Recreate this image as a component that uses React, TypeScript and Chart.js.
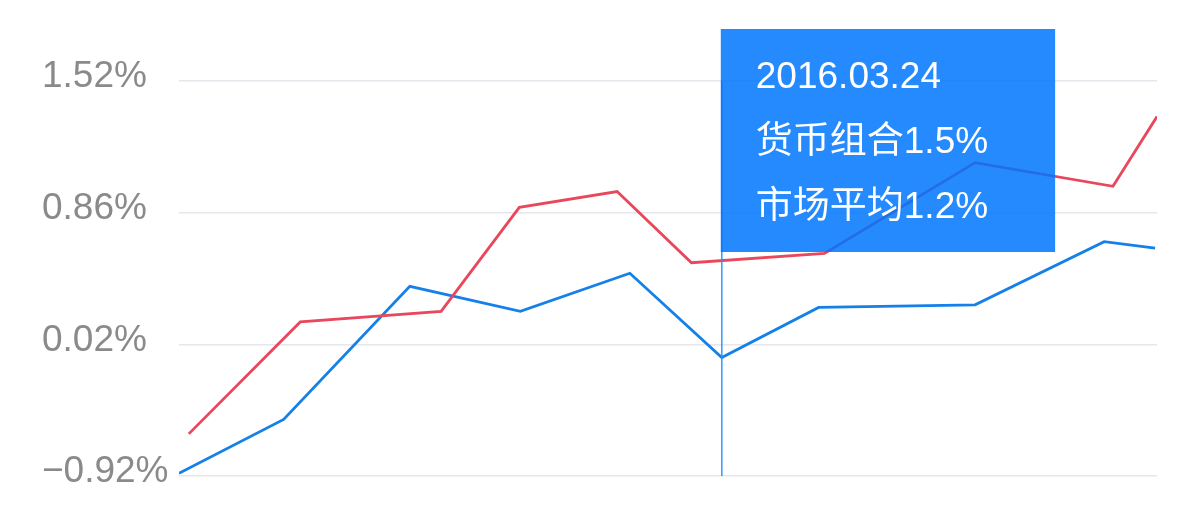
import { useEffect, useRef } from 'react';
import { Chart, registerables, Tooltip } from 'chart.js';

Chart.register(...registerables);

// y axis: four evenly spaced grid lines, labelled with uneven percentages
const yTickLabels = ['−0.92%', '0.02%', '0.86%', '1.52%'];

// x = position along the period (0..100), y = position on the grid (0..3)
const portfolioX = [1.0, 12.4, 26.8, 34.8, 44.8, 52.4, 66.0, 81.4, 95.5, 100];
const portfolioY = [0.32, 1.17, 1.25, 2.04, 2.16, 1.62, 1.69, 2.38, 2.2, 2.73];
const marketX = [0, 10.7, 23.6, 34.9, 46.1, 55.5, 65.4, 81.4, 94.6, 99.8];
const marketY = [0.02, 0.43, 1.44, 1.25, 1.54, 0.9, 1.28, 1.3, 1.78, 1.73];

const seriesNames = ['货币组合', '市场平均'];
const hoverIndex = 5;
const hoverDate = '2016.03.24';
const hoverValues = ['1.5%', '1.2%'];

const FONT = '"Liberation Sans", "Noto Sans CJK SC", sans-serif';

// tooltip box sits above the plot, its left edge on the hovered point
(Tooltip.positioners as any).topAnchored = function (this: any, elements: any[]) {
  if (!elements.length) return false;
  const el = elements.find((e) => e.datasetIndex === 1) || elements[0];
  return { x: el.element.x - 1, y: this.chart.chartArea.top - 52 };
};

const crosshair = {
  id: 'crosshair',
  afterDatasetsDraw(chart: any) {
    const active = chart.tooltip?.getActiveElements() || [];
    const el = active.find((e: any) => e.datasetIndex === 1);
    if (!el) return;
    const { ctx, chartArea } = chart;
    ctx.save();
    ctx.strokeStyle = 'rgba(40,145,255,0.9)';
    ctx.lineWidth = 1.6;
    ctx.beginPath();
    ctx.moveTo(el.element.x, chartArea.top);
    ctx.lineTo(el.element.x, chartArea.bottom);
    ctx.stroke();
    ctx.restore();
  },
};

const ReturnChart = () => {
  const chartRef = useRef<HTMLCanvasElement>(null);
  const chartInstance = useRef<Chart | null>(null);

  useEffect(() => {
    if (chartInstance.current) chartInstance.current.destroy();
    if (!chartRef.current) return;
    const ctx = chartRef.current.getContext('2d');
    if (!ctx) return;

    const chart = new Chart(ctx, {
      type: 'line',
      data: {
        datasets: [
          {
            label: seriesNames[0],
            data: portfolioX.map((x, i) => ({ x, y: portfolioY[i] })),
            borderColor: '#e8475c',
            borderWidth: 2.8,
            pointRadius: 0,
            pointHoverRadius: 0,
            tension: 0,
            fill: false,
          },
          {
            label: seriesNames[1],
            data: marketX.map((x, i) => ({ x, y: marketY[i] })),
            borderColor: '#1480e8',
            borderWidth: 2.8,
            pointRadius: 0,
            pointHoverRadius: 0,
            tension: 0,
            fill: false,
          },
        ],
      },
      options: {
        animation: false,
        responsive: true,
        maintainAspectRatio: false,
        events: [],
        layout: { padding: { left: 42, right: 43, top: 81, bottom: 51 } },
        plugins: {
          legend: { display: false },
          tooltip: {
            enabled: true,
            position: 'topAnchored' as any,
            xAlign: 'left',
            yAlign: 'top',
            caretSize: 0,
            caretPadding: 0,
            cornerRadius: 0,
            displayColors: false,
            backgroundColor: 'rgba(0,118,255,0.85)',
            titleColor: '#fff',
            bodyColor: '#fff',
            titleFont: { family: FONT, size: 37, weight: 'normal', lineHeight: 1.2 },
            bodyFont: { family: FONT, size: 37, weight: 'normal', lineHeight: 1.2 },
            titleMarginBottom: 20.6,
            titleSpacing: 0,
            bodySpacing: 20.6,
            padding: { top: 27, bottom: 21.6, left: 35, right: 67 },
            callbacks: {
              title: () => hoverDate,
              label: (c: any) => seriesNames[c.datasetIndex] + hoverValues[c.datasetIndex],
            },
          },
        },
        scales: {
          x: { type: 'linear', min: 0, max: 100, display: false },
          y: {
            min: 0,
            max: 3,
            border: { display: false },
            grid: { color: '#e6e6ec', lineWidth: 1.5, drawTicks: false },
            afterFit: (s: any) => {
              s.width = 137;
            },
            ticks: {
              stepSize: 1,
              crossAlign: 'far',
              labelOffset: -4,
              color: '#8a8a8a',
              font: { family: FONT, size: 37 },
              callback: (v: any) => yTickLabels[v as number] ?? '',
            },
          },
        },
      },
      plugins: [crosshair],
    });

    chart.tooltip?.setActiveElements(
      [
        { datasetIndex: 0, index: hoverIndex },
        { datasetIndex: 1, index: hoverIndex },
      ],
      { x: 0, y: 0 }
    );
    chart.draw();
    chartInstance.current = chart;

    return () => {
      if (chartInstance.current) {
        chartInstance.current.destroy();
        chartInstance.current = null;
      }
    };
  }, []);

  return (
    <div style={{ position: 'fixed', left: 0, top: 0, width: 1200, height: 527, background: '#fff' }}>
      <canvas ref={chartRef}></canvas>
    </div>
  );
};

export default function App() {
  return <ReturnChart />;
}
